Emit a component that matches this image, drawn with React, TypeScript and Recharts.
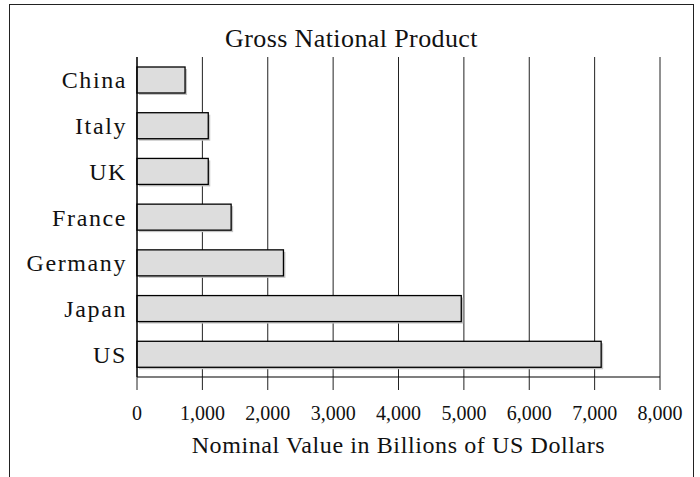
import React from "react";
import { BarChart, Bar, XAxis, YAxis, CartesianGrid } from "recharts";

// Gross National Product, billions of US dollars
const countries = ["China", "Italy", "UK", "France", "Germany", "Japan", "US"];
const gnp = [735, 1090, 1090, 1440, 2240, 4960, 7100];
const xTicks = [0, 1000, 2000, 3000, 4000, 5000, 6000, 7000, 8000];

const data = countries.map((name, i) => ({ name, value: gnp[i] }));

const FONT = "Liberation Serif";

const ShadowBar = (props: any) => {
  const { x, y, width, height } = props;
  if (!width || width <= 0) return null;
  return (
    <g>
      <rect x={x + 2} y={y + 2} width={width} height={height} fill="#c4c4c4" />
      <rect x={x} y={y} width={width} height={height} fill="#dddddd" stroke="#000" strokeWidth={1.3} />
    </g>
  );
};

export default function App() {
  return (
    <div style={{ position: "absolute", left: 0, top: 0, width: 700, height: 477, overflow: "hidden", background: "#fff", fontFamily: FONT }}>
      <div
        style={{
          position: "absolute",
          left: 9,
          top: 4,
          width: 683,
          height: 473,
          borderTop: "1.5px solid #222",
          borderLeft: "1.5px solid #222",
          borderRight: "1.5px solid #222",
        }}
      />
      <svg width={700} height={60} style={{ position: "absolute", left: 0, top: 0 }}>
        <text x={351.5} y={47} textAnchor="middle" style={{ fontFamily: FONT }} fontSize={26} letterSpacing={0.4} fill="#111">
          Gross National Product
        </text>
      </svg>
      <div style={{ position: "absolute", left: 0, top: 0 }}>
        <BarChart
          width={700}
          height={477}
          data={data}
          layout="vertical"
          margin={{ top: 57, right: 40, bottom: 20, left: 0 }}
          style={{ fontFamily: FONT }}
        >
          <CartesianGrid horizontal={false} vertical={true} stroke="#222" strokeWidth={1} />
          <XAxis
            type="number"
            domain={[0, 8000]}
            ticks={xTicks}
            interval={0}
            height={80}
            tickSize={13}
            tickMargin={16}
            tickFormatter={(v: number) => v.toLocaleString("en-US")}
            tick={{ fill: "#111", fontSize: 20, fontFamily: FONT }}
            axisLine={{ stroke: "#000", strokeWidth: 1.2 }}
            tickLine={{ stroke: "#222", strokeWidth: 1 }}
            label={{
              value: "Nominal Value in Billions of US Dollars",
              position: "insideBottom",
              offset: 4,
              fill: "#111",
              fontSize: 24,
              fontFamily: FONT,
              letterSpacing: 0.6,
            }}
          />
          <YAxis
            type="category"
            dataKey="name"
            width={137}
            tickSize={0}
            tickMargin={10}
            tickLine={false}
            axisLine={{ stroke: "#000", strokeWidth: 1.2 }}
            tick={{ fill: "#111", fontSize: 24, fontFamily: FONT, letterSpacing: 1.6 }}
          />
          <Bar dataKey="value" barSize={26} shape={ShadowBar} isAnimationActive={false} />
        </BarChart>
      </div>
    </div>
  );
}
